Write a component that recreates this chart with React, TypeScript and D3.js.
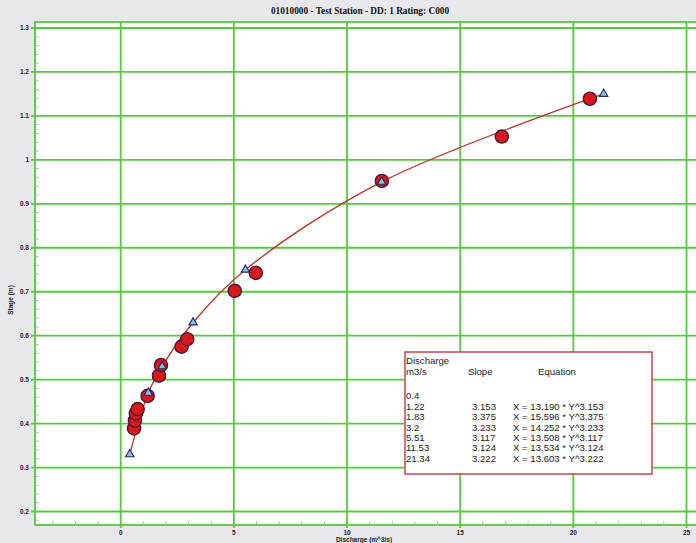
import React from "react";
import * as d3 from "d3";

const TITLE = "01010000 - Test Station - DD: 1 Rating: C000";
const X_TITLE = "Discharge (m^3/s)";
const Y_TITLE = "Stage (m)";

// Rating breakpoints (triangles) and table
const ratingQ = [0.4, 1.22, 1.83, 3.2, 5.51, 11.53, 21.34];
const ratingStage = [0.33, 0.47, 0.53, 0.63, 0.75, 0.95, 1.15];
const tableDischarge = ["0.4", "1.22", "1.83", "3.2", "5.51", "11.53", "21.34"];
const tableSlope = ["", "3.153", "3.375", "3.233", "3.117", "3.124", "3.222"];
const tableEquation = [
  "",
  "X = 13.190 * Y^3.153",
  "X = 15.596 * Y^3.375",
  "X = 14.252 * Y^3.233",
  "X = 13.508 * Y^3.117",
  "X = 13.534 * Y^3.124",
  "X = 13.603 * Y^3.222",
];

// Measurements (red circles)
const measQ = [0.59, 0.63, 0.67, 0.75, 1.19, 1.69, 1.78, 2.69, 2.94, 5.04, 5.97, 11.54, 16.84, 20.73];
const measStage = [0.389, 0.407, 0.423, 0.433, 0.463, 0.509, 0.533, 0.575, 0.592, 0.702, 0.743, 0.952, 1.053, 1.139];

const xMajor = [0, 5, 10, 15, 20, 25];
const yMajor = [0.2, 0.3, 0.4, 0.5, 0.6, 0.7, 0.8, 0.9, 1, 1.1, 1.2, 1.3];

const W = 696;
const H = 543;
const PL = 35, PR = 702, PT = 22, PB = 525;
const GRID = "#55ca3c";

export default function App() {
  const x = d3.scaleLinear().domain([0, 25]).range([120.7, 686.5]);
  const y = d3.scaleLinear().domain([0.2, 1.3]).range([511.5, 28]);

  const xMinor = d3.range(-3, 26, 1);
  const yMinor = d3.range(0.18, 1.315, 0.02);

  const ratingPts: [number, number][] = ratingQ.map((q, i) => [x(q), y(ratingStage[i])]);
  const line = d3.line<[number, number]>().curve(d3.curveCatmullRom.alpha(0.5))(ratingPts) || "";

  const tri = d3.symbol().type(d3.symbolTriangle).size(30)() || "";

  const bx = 405, by = 352, bw = 247, bh = 122;
  const rowY = (i: number) => 396 + i * 10.4;

  return (
    <svg width={W} height={H} style={{ position: "absolute", left: 0, top: 0 }} fontFamily="Liberation Sans, Arial, sans-serif">
      <rect x={0} y={0} width={W} height={H} fill="#e8e8ec" />
      <rect x={PL} y={PT} width={PR - PL} height={PB - PT} fill="#ffffff" />
      <text x={360} y={14} textAnchor="middle" fontFamily="Liberation Serif, Times New Roman, serif" fontWeight="bold" fontSize={9.3} fill="#111">
        {TITLE}
      </text>
      {/* minor ticks */}
      {yMinor.map((v, i) => (
        <line key={"ym" + i} x1={PL} x2={PL + 4} y1={y(v)} y2={y(v)} stroke="#9cb59a" strokeWidth={0.8} />
      ))}
      {xMinor.map((v, i) => (
        <line key={"xm" + i} x1={x(v)} x2={x(v)} y1={PB} y2={PB - 4} stroke="#9cb59a" strokeWidth={0.8} />
      ))}
      {/* grid */}
      {yMajor.map((v) => (
        <line key={"yg" + v} x1={PL - 4} x2={PR} y1={y(v)} y2={y(v)} stroke={GRID} strokeWidth={1.8} />
      ))}
      {xMajor.map((v) => (
        <line key={"xg" + v} x1={x(v)} x2={x(v)} y1={PT} y2={PB + 3} stroke={GRID} strokeWidth={1.8} />
      ))}
      <rect x={PL} y={PT} width={PR - PL} height={PB - PT} fill="none" stroke={GRID} strokeWidth={1.8} />
      {/* tick labels */}
      {yMajor.map((v) => (
        <text key={"yl" + v} x={29} y={y(v) + 2.3} textAnchor="end" fontSize={6.5} fontWeight="bold" fill="#222">
          {String(Math.round(v * 10) / 10)}
        </text>
      ))}
      {xMajor.map((v) => (
        <text key={"xl" + v} x={x(v)} y={535} textAnchor="middle" fontSize={6.5} fontWeight="bold" fill="#222">
          {String(v)}
        </text>
      ))}
      <text x={364} y={542} textAnchor="middle" fontSize={6.5} fontWeight="bold" fill="#222">{X_TITLE}</text>
      <text transform="translate(13,300) rotate(-90)" textAnchor="middle" fontSize={6.5} fontWeight="bold" fill="#222">{Y_TITLE}</text>
      {/* rating curve */}
      <path d={line} fill="none" stroke="#b8352c" strokeWidth={1.3} />
      {/* measurements */}
      {measQ.map((q, i) => (
        <circle key={"m" + i} cx={x(q)} cy={y(measStage[i])} r={6.6} fill="#d8181c" stroke="#4a1830" strokeWidth={1.4} />
      ))}
      {/* breakpoints */}
      {ratingQ.map((q, i) => (
        <path key={"t" + i} d={tri} transform={`translate(${x(q)},${y(ratingStage[i])})`} fill="#8fc0e0" stroke="#1c2c5c" strokeWidth={1.1} />
      ))}
      {/* table box */}
      <rect x={bx} y={by} width={bw} height={bh} fill="#ffffff" stroke="#d0404e" strokeWidth={1.5} />
      <g fontSize={9.6} fill="#222">
        <text x={406} y={364}>Discharge</text>
        <text x={406} y={375}>m3/s</text>
        <text x={468} y={375}>Slope</text>
        <text x={538} y={375}>Equation</text>
        {tableDischarge.map((t, i) => (
          <text key={"d" + i} x={406} y={rowY(i) + 3.4}>{t}</text>
        ))}
        {tableSlope.map((t, i) => (
          <text key={"s" + i} x={472} y={rowY(i) + 3.4}>{t}</text>
        ))}
        {tableEquation.map((t, i) => (
          <text key={"e" + i} x={513} y={rowY(i) + 3.4}>{t}</text>
        ))}
      </g>
    </svg>
  );
}
